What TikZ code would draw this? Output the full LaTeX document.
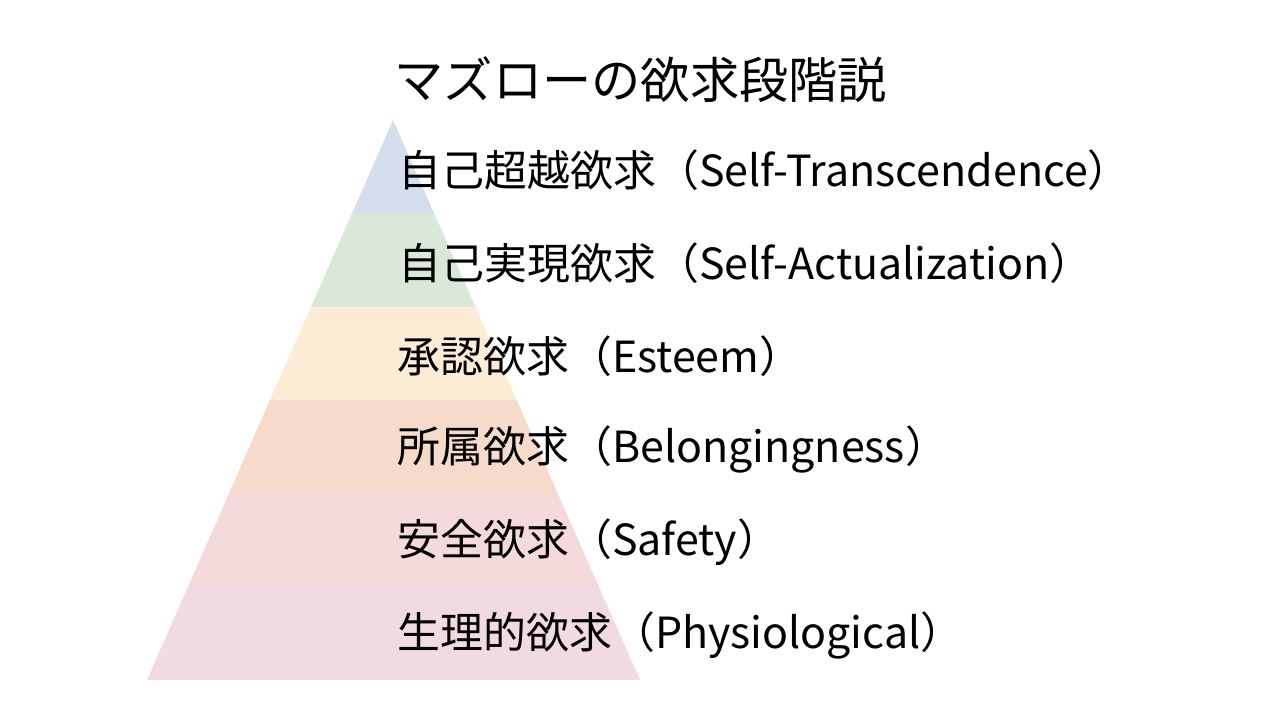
\documentclass[tikz,border=0pt]{standalone}
\usepackage{fontspec}
\setmainfont{Noto Sans CJK JP}
\definecolor{lvlblue}{HTML}{D4DEEE}
\definecolor{lvlgreen}{HTML}{D9E8D9}
\definecolor{lvlyellow}{HTML}{FCEBD5}
\definecolor{lvlorange}{HTML}{F6DBCA}
\definecolor{lvlred}{HTML}{F5DADB}
\definecolor{lvlpink}{HTML}{F1DAE4}
\tikzset{
	lvltext/.style={anchor=west, inner sep=0pt, font=\fontsize{12.2}{14}\selectfont},
}

\begin{document}
\begin{tikzpicture}[x=0.01cm, y=-0.01cm]
		%%%%% START %%%%%
		\useasboundingbox[fill=white] (0, 0) rectangle (1280, 720);
		
		\begin{scope}
		\clip (393, 120) -- (640, 680) -- (147, 680) -- cycle;
		\fill[lvlblue] (140, 110) rectangle (650, 213);
		\fill[lvlgreen] (140, 213) rectangle (650, 307);
		\fill[lvlyellow] (140, 307) rectangle (650, 400);
		\fill[lvlorange] (140, 400) rectangle (650, 493);
		\fill[lvlred] (140, 493) rectangle (650, 587);
		\fill[lvlpink] (140, 587) rectangle (650, 690);
		\end{scope}
		
		\node[anchor=west, inner sep=0pt, font=\fontsize{14}{16}\selectfont] (title) at (394, 80) {マズローの欲求段階説};
		
		\node[lvltext] (l1) at (398, 170) {自己超越欲求（Self-Transcendence）};
		\node[lvltext] (l2) at (398, 263) {自己実現欲求（Self-Actualization）};
		\node[lvltext] (l3) at (397, 356) {承認欲求（Esteem）};
		\node[lvltext] (l4) at (397, 449) {所属欲求（Belongingness）};
		\node[lvltext] (l5) at (397, 542) {安全欲求（Safety）};
		\node[lvltext] (l6) at (397, 635) {生理的欲求（Physiological）};
		%%%%% END %%%%%
	\end{tikzpicture}
\end{document}
